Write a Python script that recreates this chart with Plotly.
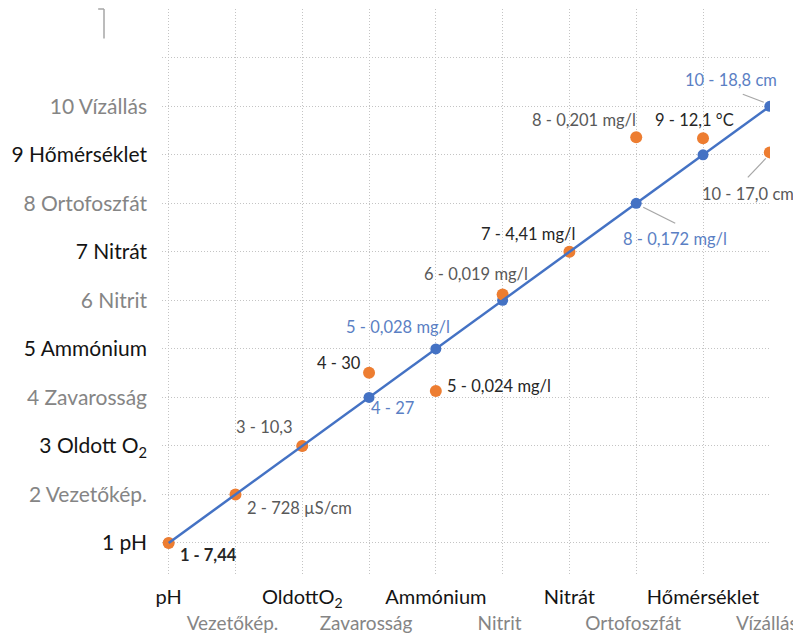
import plotly.graph_objects as go

# ---- data ----
idx = [1, 2, 3, 4, 5, 6, 7, 8, 9, 10]
param_names = ["pH", "Vezetőkép.", "Oldott O<sub>2</sub>", "Zavarosság", "Ammónium",
               "Nitrit", "Nitrát", "Ortofoszfát", "Hőmérséklet", "Vízállás"]
x_names = ["pH", "Vezetőkép.", "OldottO<sub>2</sub>", "Zavarosság", "Ammónium",
           "Nitrit", "Nitrát", "Ortofoszfát", "Hőmérséklet", "Vízállás"]
blue_y = [1, 2, 3, 4, 5, 6, 7, 8, 9, 10]
orange_y = [1, 2, 3, 4.51, 4.13, 6.12, 7, 9.36, 9.34, 9.05]
orange_labels = ["1 - 7,44", "2 - 728 µS/cm", "3 - 10,3", "4 - 30", "5 - 0,024 mg/l",
                 "6 - 0,019 mg/l", "7 - 4,41 mg/l", "8 - 0,201 mg/l", "9 - 12,1 °C", "10 - 17,0 cm"]
blue_label_idx = [4, 5, 8, 10]
blue_labels = ["4 - 27", "5 - 0,028 mg/l", "8 - 0,172 mg/l", "10 - 18,8 cm"]
extra_grid_y = [11, 12]

BLUE = "#4472C4"
ORANGE = "#ED7D31"
DARK = "#141414"
GRAY = "#858585"
GRID = "#c4c4c4"
FONT = "Lato, Open Sans, sans-serif"
LBL = 16.5

fig = go.Figure()
fig.add_trace(go.Scatter(x=idx, y=blue_y, mode="markers",
                         marker=dict(color=BLUE, size=11), showlegend=False, hoverinfo="skip"))
fig.add_trace(go.Scatter(x=idx, y=orange_y, mode="markers",
                         marker=dict(color=ORANGE, size=12), showlegend=False))
fig.add_trace(go.Scatter(x=idx, y=blue_y, mode="lines",
                         line=dict(color=BLUE, width=2.5), showlegend=False))
# invisible trace carrying the secondary axes (even category labels, upper grid lines)
fig.add_trace(go.Scatter(x=idx, y=blue_y, mode="markers", xaxis="x2", yaxis="y2",
                         marker=dict(opacity=0), showlegend=False, hoverinfo="skip"))

# ---- label styling (positions in pixel offsets) ----
o_style = [
    dict(xanchor="left", xshift=9, yshift=-12, color="#262626", bold=True),
    dict(xanchor="left", xshift=10, yshift=-14, color="#595959"),
    dict(xanchor="right", xshift=-7, yshift=19, color="#595959"),
    dict(xanchor="right", xshift=-6, yshift=10, color="#262626"),
    dict(xanchor="left", xshift=9, yshift=5, color="#262626"),
    dict(xanchor="center", xshift=-27, yshift=21, color="#595959"),
    dict(xanchor="center", xshift=-41, yshift=18, color="#262626"),
    dict(xanchor="center", xshift=-52, yshift=17, color="#595959"),
    dict(xanchor="center", xshift=-9, yshift=18, color="#262626"),
    dict(xanchor="center", xshift=-22, yshift=-42, color="#595959"),
]
b_style = [
    dict(xanchor="center", xshift=23, yshift=-11),
    dict(xanchor="center", xshift=-38, yshift=22),
    dict(xanchor="center", xshift=39, yshift=-36),
    dict(xanchor="center", xshift=-39, yshift=26),
]

annotations = []
for i, (xv, yv, txt) in enumerate(zip(idx, orange_y, orange_labels)):
    s = o_style[i]
    t = f"<b>{txt}</b>" if s.get("bold") else txt
    annotations.append(dict(x=xv, y=yv, xref="x", yref="y", text=t, showarrow=False,
                            xanchor=s["xanchor"], yanchor="middle",
                            xshift=s["xshift"], yshift=s["yshift"],
                            font=dict(family=FONT, size=LBL, color=s["color"])))
for k, (bi, txt) in enumerate(zip(blue_label_idx, blue_labels)):
    s = b_style[k]
    annotations.append(dict(x=bi, y=blue_y[bi - 1], xref="x", yref="y", text=txt,
                            showarrow=False, xanchor=s["xanchor"], yanchor="middle",
                            xshift=s["xshift"], yshift=s["yshift"],
                            font=dict(family=FONT, size=LBL, color="#5b7fc4")))

# leader lines (pixel offsets from the data point)
leaders = [
    (10, blue_y[9], -27, 12, -6, 4),
    (8, blue_y[7], 7, -4, 39, -20),
    (10, orange_y[9], -22, -25, -4, -6),
]
shapes = []
for (xv, yv, x0, y0, x1, y1) in leaders:
    shapes.append(dict(type="line", xref="x", yref="y", xsizemode="pixel", ysizemode="pixel",
                       xanchor=xv, yanchor=yv, x0=x0, y0=y0, x1=x1, y1=y1,
                       line=dict(color="#a6a6a6", width=1.2)))
# small mark in the top-left corner
shapes.append(dict(type="line", xref="paper", yref="paper", x0=-0.0954, x1=-0.0954,
                   y0=1.0, y1=0.948, line=dict(color="#a6a6a6", width=1.5)))
shapes.append(dict(type="line", xref="paper", yref="paper", x0=-0.105, x1=-0.0954,
                   y0=1.0, y1=1.0, line=dict(color="#a6a6a6", width=1.5)))

y_ticktext = []
for i, n in enumerate(param_names):
    col = DARK if (i % 2 == 0) else GRAY
    y_ticktext.append(f"<span style='color:{col}'>{idx[i]} {n}</span>")

odd_vals = [v for v in idx if v % 2 == 1]
even_vals = [v for v in idx if v % 2 == 0]
odd_text = [x_names[v - 1] for v in odd_vals]
even_text = [x_names[v - 1] for v in even_vals]

XR = [0.9, 10.003]
YR = [0.34, 12.005]
grid = dict(showgrid=True, gridcolor=GRID, griddash="1px,2px", gridwidth=1)
# page body adds an 8px margin, so the figure is 8px smaller than the window
fig.update_layout(
    width=793, height=631,
    margin=dict(l=154, r=31, t=1, b=64),
    paper_bgcolor="white", plot_bgcolor="white",
    font=dict(family=FONT),
    annotations=annotations, shapes=shapes,
    xaxis=dict(range=XR, tickvals=odd_vals, ticktext=odd_text, **grid,
               zeroline=False, showline=False, ticks="", ticklabelstandoff=8,
               automargin=False, ticklabeloverflow="allow",
               tickfont=dict(family=FONT, size=20, color=DARK)),
    xaxis2=dict(range=XR, overlaying="x", anchor="y", side="bottom",
                tickvals=even_vals, ticktext=even_text, **grid,
                zeroline=False, showline=False, ticks="", ticklabelstandoff=35,
                ticklabelshift=-3,
                automargin=False, ticklabeloverflow="allow",
                tickfont=dict(family=FONT, size=19, color=GRAY)),
    yaxis=dict(range=YR, tickvals=idx, ticktext=y_ticktext, **grid,
               zeroline=False, showline=False, ticks="", ticklabelstandoff=14,
               automargin=False,
               tickfont=dict(family=FONT, size=21, color=DARK)),
    yaxis2=dict(range=YR, overlaying="y", anchor="x", side="left",
                tickvals=extra_grid_y, showticklabels=False, **grid,
                zeroline=False, showline=False, ticks="", automargin=False),
)

fig.write_html("out.html")
